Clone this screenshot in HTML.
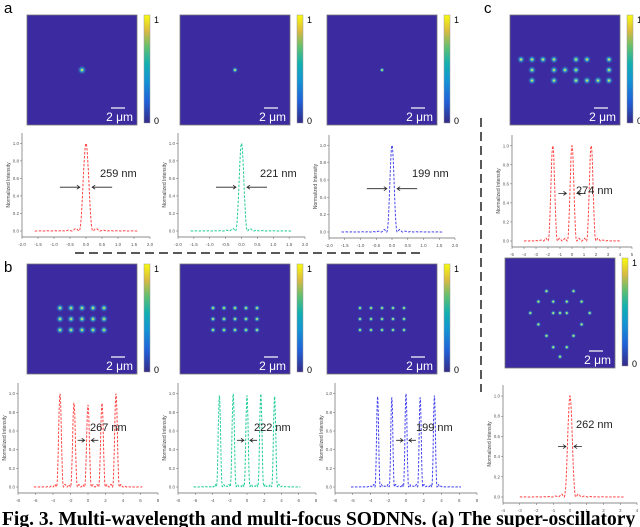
<!DOCTYPE html>
<html><head><meta charset="utf-8">
<style>
body{margin:0;background:#fff;}
svg{display:block;font-family:"Liberation Sans",sans-serif;}
</style></head>
<body>
<svg id="fig" width="640" height="527" viewBox="0 0 640 527">
<defs>
<linearGradient id="parula" x1="0" y1="1" x2="0" y2="0">
<stop offset="0" stop-color="#352a87"/><stop offset="0.2" stop-color="#2061d8"/>
<stop offset="0.4" stop-color="#1295d4"/><stop offset="0.55" stop-color="#12b0b0"/>
<stop offset="0.7" stop-color="#5fbf70"/><stop offset="0.85" stop-color="#d8ba40"/>
<stop offset="1" stop-color="#f9fb0e"/></linearGradient>
<radialGradient id="spot"><stop offset="0" stop-color="#c8e040"/><stop offset="0.35" stop-color="#30a0d0"/><stop offset="1" stop-color="#3b2aa0" stop-opacity="0"/></radialGradient>
</defs>
<text x="4" y="13" font-size="15">a</text>
<text x="4" y="272" font-size="15">b</text>
<text x="484" y="13" font-size="15">c</text>
<line x1="75" y1="253" x2="422" y2="253" stroke="#222" stroke-width="1.5" stroke-dasharray="9,5"/>
<line x1="481" y1="118" x2="481" y2="392" stroke="#222" stroke-width="1.5" stroke-dasharray="9,5"/>
<g id="content"></g>
<text x="2" y="525" font-size="19.5" font-weight="bold" font-family="Liberation Serif,serif">Fig. 3. Multi-wavelength and multi-focus SODNNs. (a) The super-oscillatory spot</text>
</svg>
<script>
// heatmap spot grids (relative grid units)
const singleSpot=[[0,0]];
const grid15=[[-2,-1],[-1,-1],[0,-1],[1,-1],[2,-1],[-2,0],[-1,0],[0,0],[1,0],[2,0],[-2,1],[-1,1],[0,1],[1,1],[2,1]];
const letterSpots=[[-4,-1],[-3,-1],[-2,-1],[-1,-1],[1,-1],[2,-1],[4,-1],[-3,0],[-1,0],[0,0],[1,0],[4,0],[-3,1],[-1,1],[1,1],[2,1],[3,1],[4,1]];
const heartSpots=[[-1,-2.3],[1,-2.3],[-1.6,-1.2],[-0.5,-1.2],[0.5,-1.2],[1.6,-1.2],[-2.2,0],[-0.5,0],[0,0],[0.5,0],[2.2,0],[-1.6,1.2],[1.6,1.2],[-1,2.4],[1,2.4],[-0.5,3.6],[0.5,3.6],[0,4.6]];
// line plot data
const peaksA=[0]; const heightsA=[1.0];
const peaksB=[-3.2,-1.6,0,1.6,3.2]; const heightsB1=[1.0,0.9,0.88,0.9,1.0]; const heightsB2=[0.98,1.0,0.98,1.0,0.97]; const heightsB3=[0.97,0.96,1.0,0.96,0.98];
const peaksC1=[-1.6,0,1.6]; const heightsC1=[1.0,1.0,1.0];
const peaksC2=[0]; const heightsC2=[1.0];
const labelsFWHM=["259 nm","221 nm","199 nm","267 nm","222 nm","199 nm","274 nm","262 nm"];
const tickA=["-2.0","-1.5","-1.0","-0.5","0.0","0.5","1.0","1.5","2.0"];
const tickB=["-8","-6","-4","-2","0","2","4","6","8"];
const tickY=["0.0","0.2","0.4","0.6","0.8","1.0"];

const NS="http://www.w3.org/2000/svg";
const root=document.getElementById('content');
function mk(t,a,p){const e=document.createElementNS(NS,t);for(const k in a)e.setAttribute(k,a[k]);(p||root).appendChild(e);return e;}

function heatmap(x,y,s,spots,sx,sy,r,name){
  const g=mk('g',{});
  
  
  mk('rect',{x:x,y:y,width:s,height:s,fill:'#3b2aa0',stroke:'#777','stroke-width':0.8},g);
  spots.forEach(p=>{
    const c=mk('circle',{cx:x+s/2+p[0]*sx,cy:y+s/2+p[1]*sy,r:r,fill:'url(#spot)'},g);
    
    
    mk('circle',{cx:x+s/2+p[0]*sx,cy:y+s/2+p[1]*sy,r:0.9,fill:'#d0e860'},g);
  });
  mk('line',{x1:x+s-26,y1:y+s-17,x2:x+s-12,y2:y+s-17,stroke:'#fff','stroke-width':1.2},g);
  const t=mk('text',{x:x+s-4,y:y+s-4,'text-anchor':'end','font-size':12,fill:'#fff'},g);t.textContent='2 μm';
  
  
  const cb=mk('rect',{x:x+s+7,y:y,width:6,height:s-2,fill:'url(#parula)',stroke:'#999','stroke-width':0.5},g);
  
  
  const t1=mk('text',{x:x+s+17,y:y+8,'font-size':9},g);t1.textContent='1';
  const t0=mk('text',{x:x+s+17,y:y+s-1,'font-size':9},g);t0.textContent='0';
}

function lineplot(o){
  const g=mk('g',{});
  
  
  const X=v=>o.x+(v-o.xmin)/(o.xmax-o.xmin)*o.w;
  const Y=v=>o.y+o.h-6-(v/1.05)*(o.h-12);
  mk('line',{x1:o.x,y1:o.y,x2:o.x,y2:o.y+o.h,stroke:'#666','stroke-width':0.7},g);
  mk('line',{x1:o.x,y1:o.y+o.h,x2:o.x+o.w,y2:o.y+o.h,stroke:'#666','stroke-width':0.7},g);
  o.xt.forEach((l,i)=>{const v=o.xmin+i*(o.xmax-o.xmin)/(o.xt.length-1);
    mk('line',{x1:X(v),y1:o.y+o.h,x2:X(v),y2:o.y+o.h+2,stroke:'#666','stroke-width':0.5},g);
    const t=mk('text',{x:X(v),y:o.y+o.h+9,'font-size':4.5,'text-anchor':'middle',fill:'#555'},g);t.textContent=l;});
  tickY.forEach((l,i)=>{const v=i*0.2;
    mk('line',{x1:o.x-2,y1:Y(v),x2:o.x,y2:Y(v),stroke:'#666','stroke-width':0.5},g);
    const t=mk('text',{x:o.x-3,y:Y(v)+1.5,'font-size':4.5,'text-anchor':'end',fill:'#555'},g);t.textContent=l;});
  const yl=mk('text',{x:o.x-12,y:o.y+o.h/2,'font-size':5,'text-anchor':'middle',fill:'#444',transform:`rotate(-90 ${o.x-12} ${o.y+o.h/2})`},g);yl.textContent='Normalized Intensity';
  if(o.xlab){const t=mk('text',{x:o.x+o.w/2,y:o.y+o.h+17,'font-size':5,'text-anchor':'middle',fill:'#444'},g);t.textContent='y (μm)';}
  let d='';
  for(let i=0;i<=500;i++){
    const v=o.lo+(o.hi-o.lo)*i/500;let s=0;
    o.peaks.forEach((p,k)=>{const u=(v-p)/o.pw;const sc=Math.abs(u)<1e-6?1:Math.sin(Math.PI*u)/(Math.PI*u);s=Math.max(s,o.heights[k]*sc*sc*(Math.abs(u)<1?1:0.6));});
    d+=(i?'L':'M')+X(v).toFixed(1)+','+Y(s).toFixed(1);
  }
  const c=mk('path',{d:d,fill:'none',stroke:o.color,'stroke-width':1,'stroke-dasharray':'2.5,1.5'},g);
  
  
  const ay=Y(0.5), ax=X(o.ax);
  mk('path',{d:`M${ax-o.al},${ay}H${ax-2}M${ax-5},${ay-2}L${ax-2},${ay}L${ax-5},${ay+2}`,stroke:'#222','stroke-width':0.8,fill:'none'},g);
  const bx=X(o.bx);
  mk('path',{d:`M${bx+o.al},${ay}H${bx+2}M${bx+5},${ay-2}L${bx+2},${ay}L${bx+5},${ay+2}`,stroke:'#222','stroke-width':0.8,fill:'none'},g);
  const t=mk('text',{x:o.lx,y:o.ly,'font-size':11,fill:'#222'},g);t.textContent=o.label;
  
  
}

heatmap(27,15,110,singleSpot,0,0,5,'heatmap-a1');
heatmap(180,15,110,singleSpot,0,0,3.5,'heatmap-a2');
heatmap(327,15,110,singleSpot,0,0,3,'heatmap-a3');
heatmap(510,15,110,letterSpots,11,10.5,4.5,'heatmap-c1');
heatmap(27,264,110,grid15,11,11,4.5,'heatmap-b1');
heatmap(180,264,110,grid15,11,11,3.5,'heatmap-b2');
heatmap(327,264,110,grid15,11,11,3,'heatmap-b3');
heatmap(505,258,110,heartSpots,13.5,9.5,3,'heatmap-c2');

lineplot({name:'profile-a1',x:22,y:133,w:128,h:104,xmin:-2,xmax:2,lo:-1.6,hi:1.6,xt:tickA,peaks:peaksA,heights:heightsA,pw:0.22,color:'#f44',ax:-0.13,bx:0.13,al:22,label:labelsFWHM[0],lx:100,ly:177});
lineplot({name:'profile-a2',x:178,y:133,w:127,h:104,xmin:-2,xmax:2,lo:-1.6,hi:1.6,xt:tickA,peaks:peaksA,heights:heightsA,pw:0.19,color:'#2c9',ax:-0.11,bx:0.11,al:22,label:labelsFWHM[1],lx:260,ly:177});
lineplot({name:'profile-a3',x:329,y:135,w:126,h:103,xmin:-2,xmax:2,lo:-1.6,hi:1.6,xt:tickA,peaks:peaksA,heights:heightsA,pw:0.17,color:'#44e',ax:-0.1,bx:0.1,al:22,label:labelsFWHM[2],lx:412,ly:177});
lineplot({name:'profile-c1',x:512,y:135,w:120,h:112,xmin:-5,xmax:5,lo:-4,hi:4,xt:["-5","-4","-3","-2","-1","0","1","2","3","4","5"],peaks:peaksC1,heights:heightsC1,pw:0.4,color:'#f44',ax:-0.3,bx:0.3,al:10,label:labelsFWHM[6],lx:576,ly:194});
lineplot({name:'profile-b1',x:18,y:383,w:140,h:110,xmin:-8,xmax:8,lo:-6.2,hi:6.2,xt:tickB,peaks:peaksB,heights:heightsB1,pw:0.4,color:'#f44',ax:-0.15,bx:0.15,al:9,label:labelsFWHM[3],lx:90,ly:431});
lineplot({name:'profile-b2',x:178,y:383,w:138,h:110,xmin:-8,xmax:8,lo:-6.2,hi:6.2,xt:tickB,peaks:peaksB,heights:heightsB2,pw:0.35,color:'#2c9',ax:-0.12,bx:0.12,al:9,label:labelsFWHM[4],lx:254,ly:431});
lineplot({name:'profile-b3',x:335,y:383,w:142,h:110,xmin:-8,xmax:8,lo:-6.2,hi:6.2,xt:tickB,peaks:peaksB,heights:heightsB3,pw:0.3,color:'#44e',ax:-0.1,bx:0.1,al:9,label:labelsFWHM[5],lx:416,ly:431});
lineplot({name:'profile-c2',x:503,y:385,w:134,h:118,xmin:-4,xmax:4,lo:-3,hi:3.2,xt:["-4","-3","-2","-1","0","1","2","3","4"],peaks:peaksC2,heights:heightsC2,pw:0.35,color:'#f44',ax:-0.12,bx:0.12,al:10,label:labelsFWHM[7],lx:576,ly:428});
</script>
</body></html>
